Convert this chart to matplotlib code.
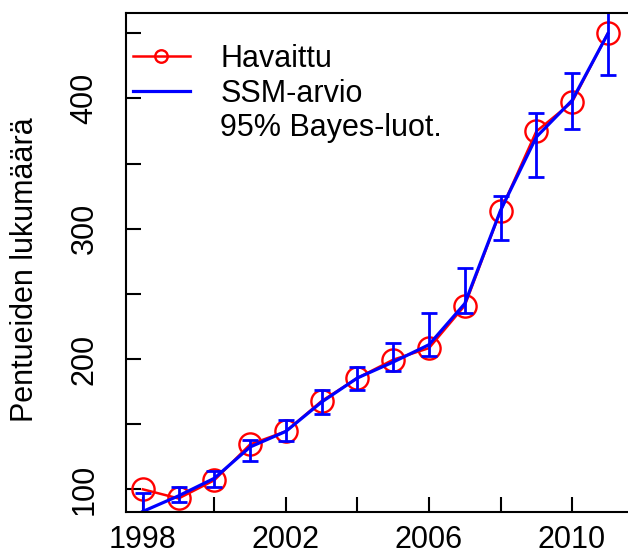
import numpy as np
import matplotlib.pyplot as plt
from matplotlib.lines import Line2D

plt.rcParams['font.family'] = ['Liberation Sans', 'DejaVu Sans']

years = np.arange(1998, 2012)
observed = np.array([100, 93, 107, 134.5, 144.5, 167.8, 185.4, 199.5, 208.4, 241, 313.6, 374.7, 397.2, 450])
ssm = np.array([83, 95, 108.5, 132.5, 144.5, 167, 185.5, 197.7, 211, 242.5, 314, 370.4, 398.5, 449.7])
ci_low = np.array([70, 90, 102, 122, 137, 157.5, 176, 191, 202, 235, 291, 339.7, 376.8, 417.7])
ci_high = np.array([97, 102, 114, 138, 153, 176, 194, 212.6, 235, 270, 325, 388.8, 419.5, 475])

xticks = [1998, 2000, 2002, 2004, 2006, 2008, 2010]
xticklabels = ['1998', '', '2002', '', '2006', '', '2010']
yticks = [100, 150, 200, 250, 300, 350, 400, 450]
yticklabels = ['100', '', '200', '', '300', '', '400', '']

fig = plt.figure(figsize=(6.28, 5.53), dpi=100)
ax = fig.add_axes([126/628, 41/553, 504/628, 499/553])

red = '#FF0000'
blue = '#0000FF'

ax.plot(years, observed, color=red, lw=1.8, marker='o', markersize=16,
        markerfacecolor='none', markeredgecolor=red, markeredgewidth=1.7)
ax.plot(years, ssm, color=blue, lw=2.3)
ax.errorbar(years, ssm, yerr=[ssm - ci_low, ci_high - ssm], fmt='none',
            ecolor=blue, elinewidth=2, capsize=6, capthick=2)

ax.set_xlim(1997.53, 2011.62)
ax.set_ylim(82.6, 465.6)

ax.set_xticks(xticks)
ax.set_xticklabels(xticklabels, fontsize=22)
ax.set_yticks(yticks)
ax.set_yticklabels(yticklabels, fontsize=22, rotation=90, va='center')
ax.tick_params(direction='in', length=11, width=1.5)
ax.tick_params(axis='x', pad=9)
ax.tick_params(axis='y', pad=19)
for s in ax.spines.values():
    s.set_linewidth(1.5)
ax.spines['right'].set_visible(False)

ax.set_ylabel('Pentueiden lukumäärä', fontsize=22)
ax.yaxis.set_label_coords(-0.17, 0.485)

handles = [
    Line2D([], [], color=red, lw=1.8, marker='o', markersize=9,
           markerfacecolor='none', markeredgecolor=red, markeredgewidth=1.7),
    Line2D([], [], color=blue, lw=2.3),
    Line2D([], [], linestyle='none'),
]
labels = ['Havaittu', 'SSM-arvio', '95% Bayes-luot.']
ax.legend(handles, labels, loc='upper left', bbox_to_anchor=(0.014, 0.938),
          frameon=False, fontsize=22, borderpad=0, borderaxespad=0,
          handlelength=1.85, handletextpad=1.0, labelspacing=0.15)

fig.savefig('out.png', dpi=100)
